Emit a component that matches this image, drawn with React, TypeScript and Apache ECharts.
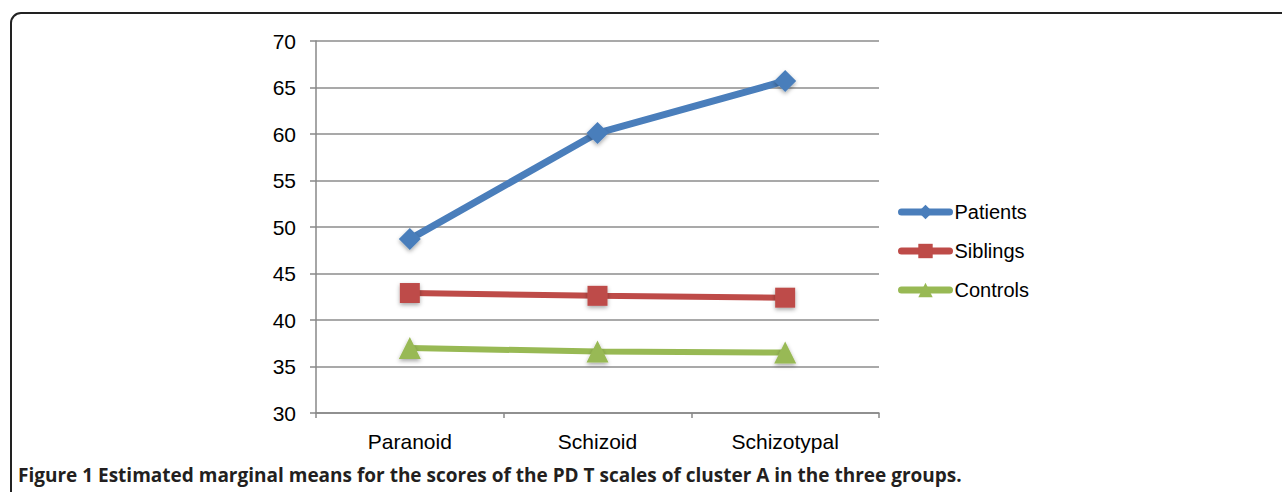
import React, { useEffect, useRef } from "react";
import * as echarts from "echarts";

const categories = ["Paranoid", "Schizoid", "Schizotypal"];
const patients = [48.7, 60.1, 65.7];
const siblings = [42.9, 42.6, 42.4];
const controls = [37.0, 36.6, 36.5];
const seriesNames = ["Patients", "Siblings", "Controls"];
const caption =
  "Figure 1 Estimated marginal means for the scores of the PD T scales of cluster A in the three groups.";

export default function App() {
  const ref = useRef<HTMLDivElement>(null);
  useEffect(() => {
    document.body.style.margin = "0";
    const chart = echarts.init(ref.current!, null, { renderer: "svg" });
    const font = "'Liberation Sans', Arial, sans-serif";
    const mk = (name: string, data: number[], color: string, symbol: string, size: number, lw: number) => ({
      name,
      type: "line",
      data,
      symbol,
      symbolSize: size,
      lineStyle: { color, width: lw, cap: "round" },
      itemStyle: {
        color,
        shadowBlur: 4,
        shadowColor: "rgba(0,0,0,0.35)",
        shadowOffsetY: 2,
      },
    });
    chart.setOption({
      animation: false,
      textStyle: { fontFamily: font },
      grid: { left: 316, top: 41, width: 563, height: 372 },
      legend: {
        orient: "vertical",
        left: 893,
        top: 197,
        itemWidth: 48,
        itemHeight: 18,
        itemGap: 19,
        lineStyle: { width: 7, cap: "round" },
        itemStyle: { shadowBlur: 0, shadowOffsetY: 0 },
        textStyle: { fontSize: 20, color: "#000", fontFamily: font },
        data: seriesNames,
      },
      xAxis: {
        type: "category",
        data: categories,
        boundaryGap: true,
        axisLine: { lineStyle: { color: "#888", width: 1.5 } },
        axisTick: { show: true, length: 5, lineStyle: { color: "#888", width: 1.5 } },
        axisLabel: { fontSize: 21, color: "#000", margin: 18, fontFamily: font },
      },
      yAxis: {
        type: "value",
        min: 30,
        max: 70,
        interval: 5,
        axisLine: { show: true, lineStyle: { color: "#888", width: 1.5 } },
        axisTick: { show: true, length: 6, lineStyle: { color: "#888", width: 1.5 } },
        splitLine: { lineStyle: { color: "#8c8c8c", width: 1.5 } },
        axisLabel: { fontSize: 21, color: "#000", margin: 20, fontFamily: font },
      },
      series: [
        mk(seriesNames[0], patients, "#4a7ebb", "diamond", 22, 7),
        mk(seriesNames[1], siblings, "#be4b48", "rect", 20, 6),
        mk(seriesNames[2], controls, "#98b954", "triangle", 22, 6),
      ],
      graphic: [
        {
          type: "rect",
          shape: { x: 11, y: 13, width: 1400, height: 600, r: 10 },
          style: { fill: "none", stroke: "#222", lineWidth: 2 },
          silent: true,
        },
        {
          type: "text",
          x: 18,
          y: 475,
          style: {
            text: caption,
            font: "bold 19px 'Open Sans', 'Liberation Sans', sans-serif",
            fill: "#231f20",
            textVerticalAlign: "middle",
          },
        },
      ],
    });
    return () => chart.dispose();
  }, []);
  return <div ref={ref} style={{ width: 1282, height: 492 }} />;
}
